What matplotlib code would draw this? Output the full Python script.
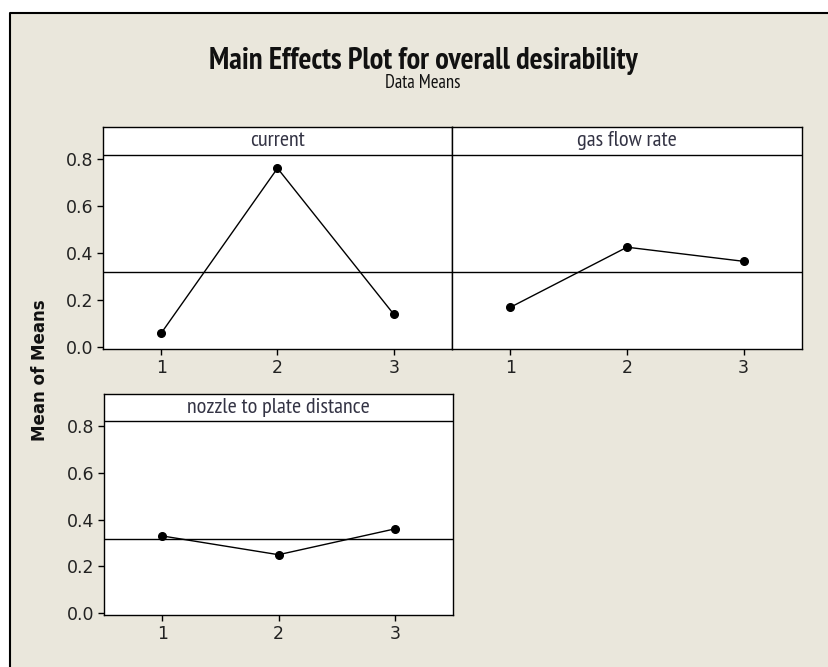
import matplotlib
matplotlib.use("Agg")
import matplotlib.pyplot as plt
from matplotlib.lines import Line2D
import numpy as np

levels = [1, 2, 3]
factors = ["current", "gas flow rate", "nozzle to plate distance"]
current = [0.06, 0.76, 0.14]
gas_flow_rate = [0.17, 0.425, 0.365]
nozzle_distance = [0.33, 0.25, 0.36]
series = [current, gas_flow_rate, nozzle_distance]
yticks = [0.0, 0.2, 0.4, 0.6, 0.8]

grand_mean = float(np.mean(current + gas_flow_rate + nozzle_distance))

W, H = 829, 667
fig = plt.figure(figsize=(W / 100, H / 100), dpi=100)
fig.patch.set_facecolor("white")
bg = "#EAE7DC"

# beige background region with border
fig.patches.append(plt.Rectangle((10 / W, 0), 1 - 10 / W, 1 - 13 / H, transform=fig.transFigure,
                                 facecolor=bg, edgecolor="none", zorder=-10))
fig.lines.append(Line2D([10 / W, 10 / W, 1], [0, 1 - 13 / H, 1 - 13 / H], transform=fig.transFigure,
                        color="black", lw=1.5))

font = ["PT Sans Narrow", "DejaVu Sans"]
tick_font = "DejaVu Sans"


def px_rect(x0, y0, x1, y1):
    return [x0 / W, 1 - y1 / H, (x1 - x0) / W, (y1 - y0) / H]


panels = [px_rect(103, 127, 452, 349), px_rect(452, 127, 802, 349), px_rect(104, 394, 453, 615)]
ylim = (-0.007, 0.935)
strip_y = 0.818

for i, (rect, name, vals) in enumerate(zip(panels, factors, series)):
    ax = fig.add_axes(rect)
    ax.set_facecolor("white")
    ax.set_xlim(0.5, 3.5)
    ax.set_ylim(*ylim)
    ax.plot(levels, vals, color="black", lw=1.0, marker="o", ms=5.5, zorder=3)
    ax.axhline(grand_mean, color="black", lw=1.0)
    ax.axhline(strip_y, color="black", lw=1.0)
    ax.text(2, (strip_y + ylim[1]) / 2, name, ha="center", va="center",
            fontsize=16, family=font, color="#333344")
    ax.set_xticks(levels)
    ax.set_xticklabels([str(l) for l in levels], family=tick_font, fontsize=12.5)
    ax.set_yticks(yticks)
    if i == 1:
        ax.tick_params(axis="y", left=False, labelleft=False)
    else:
        ax.set_yticklabels([f"{t:.1f}" for t in yticks], family=tick_font, fontsize=12.5)
    ax.tick_params(axis="both", direction="out", length=4, width=1, colors="black", pad=3)
    for lab in ax.get_xticklabels() + ax.get_yticklabels():
        lab.set_color("#222222")
    for sp in ax.spines.values():
        sp.set_linewidth(1.0)
        sp.set_color("black")

fig.text(423 / W, 1 - 69 / H, "Main Effects Plot for overall desirability", ha="center", va="baseline",
         fontsize=22, fontweight="bold", family=font, color="#111111")
fig.text(423 / W, 1 - 83 / H, "Data Means", ha="center", va="center",
         fontsize=13.5, family=font, color="#111111")
fig.text(40 / W, 1 - 370 / H, "Mean of Means", ha="center", va="center", rotation=90,
         fontsize=12, fontweight="bold", family="DejaVu Sans", color="#111111")

fig.savefig("out.png", dpi=100, facecolor=fig.get_facecolor())
